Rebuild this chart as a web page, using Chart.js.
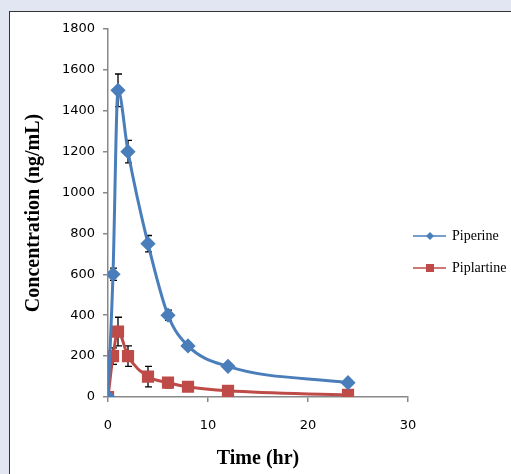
<!DOCTYPE html>
<html>
<head>
<meta charset="utf-8">
<script src="https://cdn.jsdelivr.net/npm/chart.js@4.4.0/dist/chart.umd.min.js"></script>
<style>
  body { margin: 0; background: #e1e6f2; width: 511px; height: 474px; overflow: hidden; }
  #panel { position: absolute; left: 9px; top: 11px; width: 510px; height: 470px; background: #fff; border: 1px solid #333; box-sizing: border-box; }
  canvas { position: absolute; left: 0; top: 0; }
</style>
</head>
<body>
<div id="panel"><canvas id="c" width="502" height="463"></canvas></div>
<script>
// --- Data ---
const times = [0, 0.5, 1, 2, 4, 6, 8, 12, 24];
const piperine = [0, 600, 1500, 1200, 750, 400, 250, 150, 70];
const piperineErr = [0, 30, 80, 55, 40, 25, 15, 10, 8];
const piplartine = [0, 200, 320, 200, 100, 70, 50, 30, 10];
const piplartineErr = [0, 40, 70, 50, 50, 25, 10, 5, 3];
const seriesNames = ['Piperine', 'Piplartine'];
const errs = [piperineErr, piplartineErr];

const toPoints = ys => times.map((t, i) => ({ x: t, y: ys[i] }));

// --- Error bars drawn through the chart scales ---
const errorBars = {
  id: 'errorBars',
  beforeDatasetsDraw(chart) {
    const { ctx, scales: { x, y } } = chart;
    ctx.save();
    ctx.strokeStyle = '#000';
    ctx.lineWidth = 1.3;
    chart.data.datasets.forEach((ds, d) => {
      ds.data.forEach((p, i) => {
        const e = errs[d][i];
        if (!e) return;
        const px = x.getPixelForValue(p.x);
        const top = y.getPixelForValue(p.y + e);
        const bot = y.getPixelForValue(p.y - e);
        ctx.beginPath();
        ctx.moveTo(px, top); ctx.lineTo(px, bot);
        ctx.moveTo(px - 3, top); ctx.lineTo(px + 4, top);
        ctx.moveTo(px - 3, bot); ctx.lineTo(px + 4, bot);
        ctx.stroke();
      });
    });
    ctx.restore();
  }
};

// --- Legend on the right ---
const sideLegend = {
  id: 'sideLegend',
  afterDraw(chart) {
    const { ctx } = chart;
    ctx.save();
    ctx.font = '14px "Liberation Serif"';
    ctx.textBaseline = 'middle';
    chart.data.datasets.forEach((ds, d) => {
      const yy = 224 + d * 32;
      const x0 = 403;
      ctx.strokeStyle = ds.borderColor;
      ctx.lineWidth = 1.5;
      ctx.beginPath(); ctx.moveTo(x0, yy); ctx.lineTo(x0 + 33, yy); ctx.stroke();
      ctx.fillStyle = ds.borderColor;
      ctx.beginPath();
      if (d === 0) {
        ctx.moveTo(x0 + 17, yy - 4); ctx.lineTo(x0 + 21, yy); ctx.lineTo(x0 + 17, yy + 4); ctx.lineTo(x0 + 13, yy);
      } else {
        ctx.rect(x0 + 13, yy - 4, 8, 8);
      }
      ctx.fill();
      ctx.fillStyle = '#000';
      ctx.fillText(seriesNames[d], x0 + 39, yy);
    });
    ctx.restore();
  }
};

const tickFont = { family: '"DejaVu Sans"', size: 13 };
const titleFont = { family: '"Liberation Serif"', size: 20, weight: 'bold' };
const axisGrid = { display: true, drawOnChartArea: false, drawTicks: true, tickLength: 5, color: '#888', lineWidth: 1.5 };

new Chart(document.getElementById('c'), {
  type: 'line',
  data: {
    datasets: [
      {
        label: seriesNames[0], data: toPoints(piperine),
        borderColor: '#4a7ebb', backgroundColor: '#4a7ebb', borderWidth: 3,
        pointStyle: 'rectRot', pointRadius: 5.5, cubicInterpolationMode: 'monotone'
      },
      {
        label: seriesNames[1], data: toPoints(piplartine),
        borderColor: '#be4b48', backgroundColor: '#be4b48', borderWidth: 3,
        pointStyle: 'rect', pointRadius: 6.5, cubicInterpolationMode: 'monotone'
      }
    ]
  },
  plugins: [errorBars, sideLegend],
  options: {
    responsive: false,
    animation: false,
    layout: { padding: { top: 17, right: 104, left: 8, bottom: 0 } },
    plugins: { legend: { display: false }, tooltip: { enabled: false } },
    scales: {
      x: {
        type: 'linear', min: 0, max: 30,
        ticks: { stepSize: 10, color: '#000', font: tickFont, padding: 16, callback: v => String(v) },
        grid: axisGrid,
        border: { color: '#888', width: 1.5 },
        title: { display: true, text: 'Time (hr)', color: '#000', font: titleFont, padding: { top: 6 } },
        afterFit(s) { s.height = 78; }
      },
      y: {
        min: 0, max: 1800,
        ticks: { stepSize: 200, color: '#000', font: tickFont, padding: 8, callback: v => String(v) },
        grid: axisGrid,
        border: { color: '#888', width: 1.5 },
        title: { display: true, text: 'Concentration (ng/mL)', color: '#000', font: titleFont },
        afterFit(s) { s.width = 90; }
      }
    }
  }
});
</script>
</body>
</html>
